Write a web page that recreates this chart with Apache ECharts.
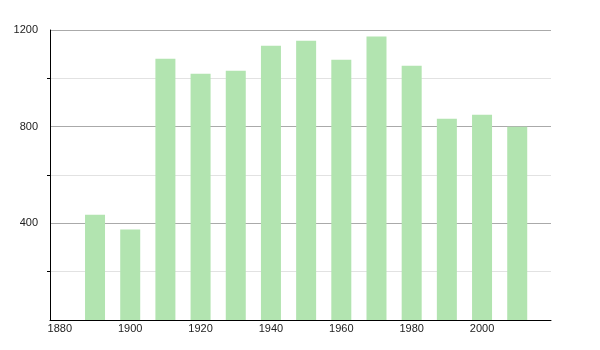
<!DOCTYPE html>
<html>
<head>
<meta charset="utf-8">
<script src="https://cdn.jsdelivr.net/npm/echarts@6/dist/echarts.min.js"></script>
<style>html,body{margin:0;padding:0;background:#fff}#c{width:600px;height:350px}</style>
</head>
<body>
<div id="c"></div>
<script>
var years = [1890, 1900, 1910, 1920, 1930, 1940, 1950, 1960, 1970, 1980, 1990, 2000, 2010];
var population = [436, 374, 1081, 1019, 1031, 1135, 1156, 1077, 1173, 1052, 833, 849, 800];
var xTickLabels = [1880, 1900, 1920, 1940, 1960, 1980, 2000];
var yTickLabels = [400, 800, 1200];
var yMinorTicks = [200, 600, 1000];

var chart = echarts.init(document.getElementById('c'), null, {renderer: 'canvas'});
var labelFont = {color: '#222', fontFamily: 'Liberation Sans, Arial, sans-serif', fontSize: 11};
chart.setOption({
  animation: false,
  backgroundColor: '#fff',
  grid: {left: 50, right: 49, top: 30, bottom: 30, containLabel: false},
  xAxis: {
    type: 'value',
    min: 1877.2,
    max: 2019.6,
    axisLine: {show: true, lineStyle: {color: '#000', width: 1}},
    axisTick: {show: false},
    splitLine: {show: false},
    axisLabel: Object.assign({
      customValues: xTickLabels,
      margin: 3,
      formatter: function (v) { return String(v); }
    }, labelFont)
  },
  yAxis: [{
    type: 'value',
    min: 0,
    max: 1200,
    interval: 200,
    axisLine: {show: true, lineStyle: {color: '#000', width: 1}},
    axisTick: {show: false},
    splitLine: {show: true, showMinLine: false, showMaxLine: true, lineStyle: {color: ['#e2e2e2', '#aaa'], width: 1}},
    axisLabel: Object.assign({
      customValues: yTickLabels,
      margin: 12,
      formatter: function (v) { return String(v); }
    }, labelFont)
  }, {
    type: 'value',
    position: 'left',
    min: 0,
    max: 1200,
    axisLine: {show: false},
    axisTick: {show: true, customValues: yMinorTicks, length: 3, lineStyle: {color: '#000'}},
    splitLine: {show: false},
    axisLabel: {show: false}
  }],
  series: [{
    type: 'bar',
    barWidth: 20,
    data: years.map(function (y, i) { return [y, population[i]]; }),
    itemStyle: {color: '#b2e4b0'},
    z: 1
  }]
});
</script>
</body>
</html>
